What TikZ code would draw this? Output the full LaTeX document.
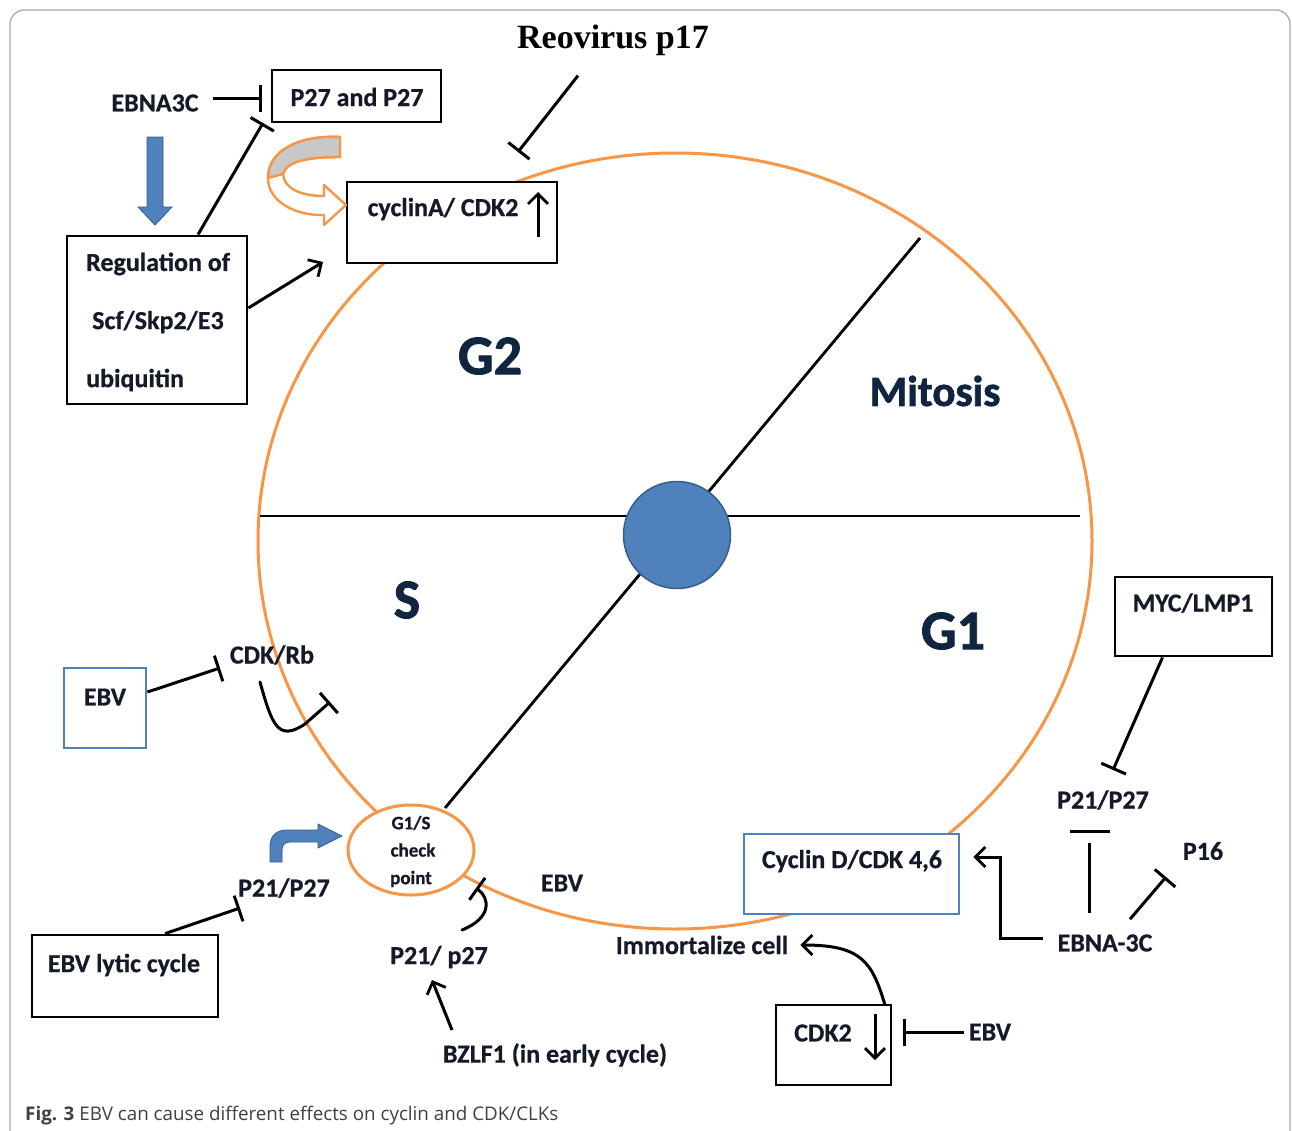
\documentclass[tikz,border=0pt]{standalone}
\usepackage{fontspec}
\setmainfont{Carlito}
\newfontfamily\lblfont[BoldFeatures={FakeBold=0.6}]{Carlito}
\newfontfamily\heavyfont[BoldFeatures={FakeBold=1.6}]{Carlito}
\newfontfamily\reofont{Liberation Serif}
\newfontfamily\capfont{Open Sans}
\usetikzlibrary{arrows.meta,shapes.geometric}
\definecolor{ebvblue}{HTML}{4F81BD}
\definecolor{dotedge}{HTML}{385D8A}
\definecolor{cycorange}{HTML}{F79646}
\definecolor{phasenavy}{HTML}{0F2540}
\definecolor{txt}{HTML}{141A2A}
\definecolor{bandgray}{HTML}{C8C8C8}
\tikzset{
  box/.style={draw=black, line width=2.8pt, fill=white, inner sep=0pt},
  bbox/.style={draw=ebvblue, line width=2.8pt, fill=white, inner sep=0pt},
  lbl/.style={font=\lblfont\fontsize{26}{30}\selectfont\bfseries, text=txt, inner sep=0pt},
  small/.style={font=\lblfont\fontsize{19}{22}\selectfont\bfseries, text=txt, inner sep=0pt},
  phase/.style={font=\heavyfont\fontsize{56}{62}\selectfont\bfseries, text=phasenavy, inner sep=0pt},
  ln/.style={line width=3pt, draw=black},
  inh/.style={ln, -{Bar[width=27pt,line width=3pt]}},
  act/.style={ln, -{Straight Barb[length=10pt,width=20pt,line width=2.8pt]}},
  divider/.style={line width=2.8pt, draw=black},
}
\begin{document}
\begin{tikzpicture}[x=1pt,y=-1pt]
\useasboundingbox (0,0) rectangle (1292,1130);
\fill[white] (0,0) rectangle (1292,1130);
% frame
\draw[black!35, line width=1.2pt, rounded corners=14pt] (10,10) rectangle (1290,1160);

% cell cycle
\draw[cycorange, line width=3pt] (675,541) ellipse [x radius=417, y radius=388];
\coordinate (hl) at (260,516);
\coordinate (hr) at (1080,516);
\coordinate (dtop) at (920,238);
\coordinate (dbot) at (445,808);
\draw[divider] (hl) -- (hr);
\draw[divider] (dtop) -- (dbot);
\node[circle, fill=ebvblue, draw=dotedge, line width=1.5pt, minimum size=107pt, inner sep=0pt] (dot) at (677,535) {};

% phase labels
\node[phase] (g2) at (490,356) {G2};
\node[phase, font=\heavyfont\fontsize{43}{50}\selectfont\bfseries] (mit) at (935,391) {Mitosis};
\node[phase] (sph) at (407,600) {S};
\node[phase] (g1) at (953,631) {G1};

% boxes
\node[box, minimum width=169pt, minimum height=52pt] (p27box) at (356.5,96) {};
\node[lbl] (p27t) at (357,97) {P27 and P27};
\node[box, minimum width=210pt, minimum height=81pt] (cycA) at (452,222.5) {};
\node[lbl] (cycAt) at (443,209) {cyclinA/ CDK2};
\node[box, minimum width=180pt, minimum height=168pt] (reg) at (157,320) {};
\node[lbl, anchor=west] (reg1) at (86,264) {Regulation of};
\node[lbl, anchor=west] (reg2) at (92,322) {Scf/Skp2/E3};
\node[lbl, anchor=west] (reg3) at (86,380) {ubiquitin};
\node[bbox, minimum width=82pt, minimum height=80pt] (ebvb) at (105,708) {};
\node[lbl] (ebvbt) at (105,697) {EBV};
\node[box, minimum width=186pt, minimum height=82pt] (lytic) at (125,976) {};
\node[lbl] (lytict) at (124,965) {EBV lytic cycle};
\node[bbox, minimum width=215pt, minimum height=80pt] (cycD) at (851.5,874) {};
\node[lbl] (cycDt) at (852,861) {Cyclin D/CDK 4,6};
\node[box, minimum width=115pt, minimum height=80pt] (cdk2) at (833.5,1045) {};
\node[lbl] (cdk2t) at (823,1033) {CDK2};
\node[box, minimum width=157pt, minimum height=79pt] (myc) at (1193.5,616.5) {};
\node[lbl] (myct) at (1193,603) {MYC/LMP1};

% G1/S checkpoint
\node[ellipse, draw=cycorange, line width=3pt, fill=white, minimum width=126pt, minimum height=90pt, inner sep=0pt] (g1s) at (411,850) {};
\node[small] (g1sa) at (411,823) {G1/S};
\node[small] (g1sb) at (413,850) {check};
\node[small] (g1sc) at (411,879) {point};

% free labels
\node[font=\reofont\fontsize{34}{40}\selectfont\bfseries, text=black, inner sep=0pt] (reo) at (613,40) {Reovirus p17};
\node[lbl] (ebna3c) at (155,103) {EBNA3C};
\node[lbl] (cdkrb) at (272,655) {CDK/Rb};
\node[lbl] (p21l) at (284,888) {P21/P27};
\node[lbl] (ebvm) at (562,883) {EBV};
\node[lbl] (p21m) at (439,957) {P21/ p27};
\node[lbl] (bzlf) at (555,1055) {BZLF1 (in early cycle)};
\node[lbl] (immo) at (702,945) {Immortalize cell};
\node[lbl] (ebvr) at (990,1032) {EBV};
\node[lbl] (ebna3cr) at (1105,943) {EBNA-3C};
\node[lbl] (p21r) at (1103,800) {P21/P27};
\node[lbl] (p16) at (1203,851) {P16};

% caption
\node[anchor=base west, font=\capfont\fontsize{18.8}{22}\selectfont, text=black!75, inner sep=0pt] (cap) at (25,1120) {\textbf{Fig. 3} EBV can cause different effects on cyclin and CDK/CLKs};

% connectors
\coordinate (reoEnd) at (518,152);
\draw[inh] ([xshift=-35pt,yshift=-20pt]reo.south) -- (reoEnd);
\coordinate (p27bar) at (262,98);
\coordinate (e3e) at ([xshift=14pt]ebna3c.east);
\draw[inh] (e3e |- p27bar) -- (p27bar);
% blue block arrow
\fill[ebvblue, draw=dotedge, line width=0.8pt] (147,137) -- (163,137) -- (163,207) -- (172,207) -- (155,225) -- (138,207) -- (147,207) -- cycle;
\coordinate (regbar) at (263,123);
\draw[inh] ([xshift=41pt]reg.north) -- (regbar);
\coordinate (cycAin) at (323,262);
\draw[act] ([yshift=12pt]reg.east) -- (cycAin);
% orange U-turn arrow
\filldraw[fill=white, draw=cycorange, line width=2.4pt, line join=round]
  (340,137) .. controls (300,135) and (268,150) .. (268,178)
  .. controls (268,203) and (298,216) .. (324,215) -- (324,225) -- (346,205) -- (324,185) -- (324,196)
  .. controls (300,196) and (284,188) .. (283,174)
  .. controls (286,162) and (305,157) .. (340,157) -- cycle;
\filldraw[fill=bandgray, draw=cycorange, line width=2.4pt, line join=round]
  (340,137) .. controls (300,135) and (268,150) .. (268,178)
  -- (283,174) .. controls (286,162) and (305,157) .. (340,157) -- cycle;
% up arrow in cyclinA box
\coordinate (upA) at (538,237);
\coordinate (upB) at (538,192);
\draw[act] (upA) -- (upB);
% EBV blue box to CDK/Rb
\coordinate (ebvbar) at (220,668);
\draw[inh] ([yshift=16pt]ebvb.east) -- (ebvbar);
% CDK/Rb hook
\coordinate (hookA) at (260,682);
\coordinate (hookB) at (330,702);
\draw[inh, line cap=round] (hookA) .. controls (272,725) and (278,742) .. (305,724) -- (hookB);
% blue bent arrow
\fill[ebvblue, draw=dotedge, line width=0.8pt] (270,862) -- (270,847) .. controls (270,836) and (276,830) .. (287,830) -- (318,830) -- (318,824) -- (342,836) -- (318,848) -- (318,842) -- (290,842) .. controls (285,842) and (282,845) .. (282,850) -- (282,862) -- cycle;
% lytic to P21/P27
\coordinate (lytbar) at (240,908);
\draw[inh] ([xshift=40pt]lytic.north) -- (lytbar);
% hook near G1/S
\coordinate (hk2a) at (462,930);
\coordinate (hk2b) at (476,888);
\draw[inh, line cap=round] (hk2a) .. controls (492,918) and (490,898) .. (hk2b);
% BZLF1 to P21/p27
\coordinate (bzA) at (452,1030);
\coordinate (bzB) at (432,980);
\draw[act] (bzA) -- (bzB);
% CDK2 to Immortalize cell
\coordinate (cdk2top) at (885,1005);
\draw[act] (cdk2top) .. controls (872,962) and (862,945) .. ([xshift=12pt]immo.east);
% CDK2 down arrow
\coordinate (dnA) at (875,1014);
\coordinate (dnB) at (875,1060);
\draw[act] (dnA) -- (dnB);
% EBV to CDK2
\coordinate (cdk2bar) at (903,1032);
\draw[inh] ([xshift=-5pt]ebvr.west) -- (cdk2bar);
% EBNA-3C to Cyclin D
\coordinate (e3w) at ([xshift=-14pt]ebna3cr.west);
\coordinate (cycDin) at ([xshift=13pt,yshift=17pt]cycD.east);
\draw[act] (e3w |- 0,938) -- (1000,938) -- (1000,857) -- (cycDin);
% EBNA-3C to P21/P27 (right)
\coordinate (vinA) at (1089,913);
\coordinate (vinB) at (1089,843);
\draw[ln] (vinA) -- (vinB);
\draw[ln] (1070,831) -- (1110,831);
% MYC to P21/P27
\coordinate (mycbar) at (1113,770);
\draw[inh] ([xshift=-31pt]myc.south) -- (mycbar);
% EBNA-3C to P16
\coordinate (p16bar) at (1166,877);
\draw[inh] ([xshift=25pt,yshift=15pt]ebna3cr.north) -- (p16bar);
\end{tikzpicture}
\end{document}
